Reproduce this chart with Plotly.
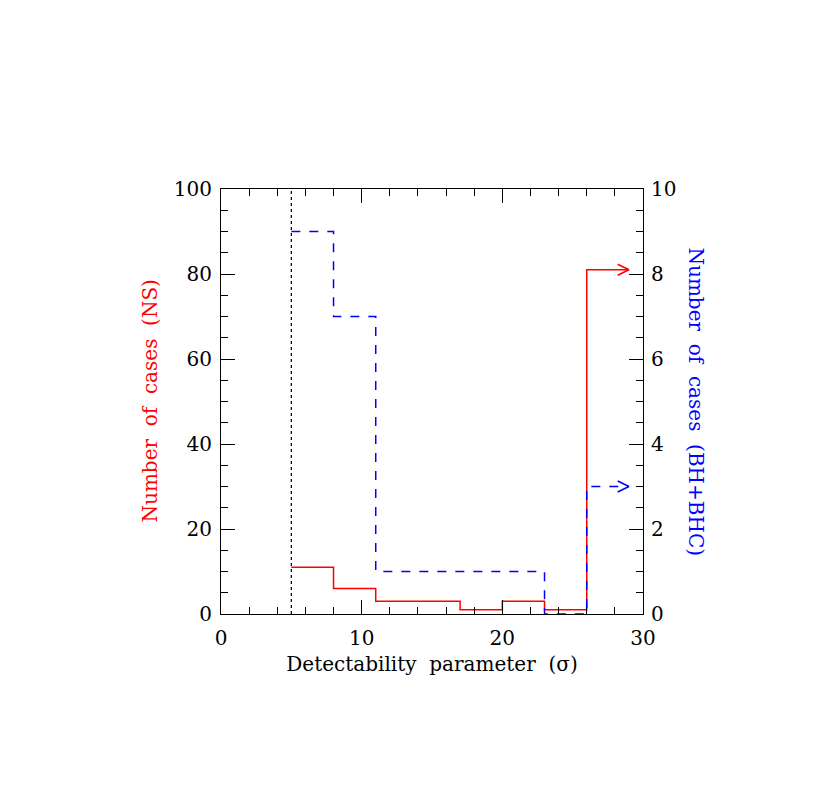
import plotly.graph_objects as go

# Bin edges (detectability parameter, sigma)
bin_edges = [5, 8, 11, 17, 20, 23, 26, 29]
ns_counts = [11, 6, 3, 1, 3, 1, 81]          # red, left axis
bh_edges = [5, 8, 11, 23, 26, 29]
bh_counts = [9, 7, 1, 0, 3]                   # blue, right axis
threshold = 5
x_ticks = [0, 10, 20, 30]
y_left_ticks = [0, 20, 40, 60, 80, 100]
y_right_ticks = [0, 2, 4, 6, 8, 10]

FONT = "DejaVu Serif"
SP = " \u00a0"  # wide word spacing


def steps(edges, counts):
    xs, ys = [], []
    for i, c in enumerate(counts):
        xs += [edges[i], edges[i + 1]]
        ys += [c, c]
    return xs, ys


fig = go.Figure()

# dotted threshold line
fig.add_trace(go.Scatter(x=[threshold, threshold], y=[0, 100], mode="lines",
                         line=dict(color="black", width=1.2, dash="dot"),
                         showlegend=False, hoverinfo="skip"))

# NS histogram (red)
nx, ny = steps(bin_edges, ns_counts)
fig.add_trace(go.Scatter(x=nx, y=ny, mode="lines", line=dict(color="red", width=1.5),
                         showlegend=False))
tip_x, tip_y = bin_edges[-1], ns_counts[-1]
fig.add_trace(go.Scatter(x=[tip_x - 0.8, tip_x, tip_x - 0.8],
                         y=[tip_y + 1.3, tip_y, tip_y - 1.3], mode="lines",
                         line=dict(color="red", width=1.5), showlegend=False))

# BH histogram (blue, dashed, right axis)
bx, by = steps(bh_edges, bh_counts)
fig.add_trace(go.Scatter(x=bx, y=by, mode="lines", yaxis="y2",
                         line=dict(color="blue", width=1.5, dash="dash"),
                         showlegend=False))
btip_x, btip_y = bh_edges[-1], bh_counts[-1]
fig.add_trace(go.Scatter(x=[btip_x - 0.8, btip_x, btip_x - 0.8],
                         y=[btip_y + 0.13, btip_y, btip_y - 0.13], mode="lines",
                         yaxis="y2", line=dict(color="blue", width=1.5),
                         showlegend=False))

axis_common = dict(showgrid=False, zeroline=False, showline=True, linecolor="black",
                   linewidth=1.2, ticks="inside", tickcolor="black", tickwidth=1.2,
                   tickfont=dict(family=FONT, size=20, color="black"))

L, R, T, B = 213, 195, 181, 179
fig.update_layout(
    width=830, height=785,
    paper_bgcolor="white", plot_bgcolor="white",
    margin=dict(l=L, r=R, t=T, b=B),
    font=dict(family=FONT, color="black"),
    xaxis=dict(range=[0, 30], tickvals=x_ticks, ticklen=14, mirror="ticks",
               ticklabelstandoff=6,
               minor=dict(dtick=2, ticklen=7, ticks="inside", tickcolor="black", tickwidth=1.2),
               title=dict(text=SP.join("Detectability parameter (σ)".split(" ")),
                          font=dict(family=FONT, size=20, color="black"), standoff=7),
               **axis_common),
    yaxis=dict(range=[0, 100], tickvals=y_left_ticks, ticklen=14, ticklabelstandoff=4,
               minor=dict(dtick=5, ticklen=7, ticks="inside", tickcolor="black", tickwidth=1.2),
               **axis_common),
    yaxis2=dict(range=[0, 10], tickvals=y_right_ticks, ticklen=14, overlaying="y",
                side="right", ticklabelstandoff=3,
                minor=dict(dtick=0.5, ticklen=7, ticks="inside", tickcolor="black", tickwidth=1.2),
                **axis_common),
)
pw = 830 - L - R
fig.add_annotation(text=SP.join("Number of cases (NS)".split(" ")),
                   x=(149 - 221) / pw, y=0.5, xref="paper", yref="paper",
                   xanchor="center", yanchor="middle",
                   showarrow=False, textangle=-90,
                   font=dict(family=FONT, size=20, color="red"))
fig.add_annotation(text=SP.join("Number of cases (BH+BHC)".split(" ")),
                   x=(696 - 221) / pw, y=0.5, xref="paper", yref="paper",
                   xanchor="center", yanchor="middle",
                   showarrow=False, textangle=90,
                   font=dict(family=FONT, size=20, color="blue"))

fig.write_html("out.html")
